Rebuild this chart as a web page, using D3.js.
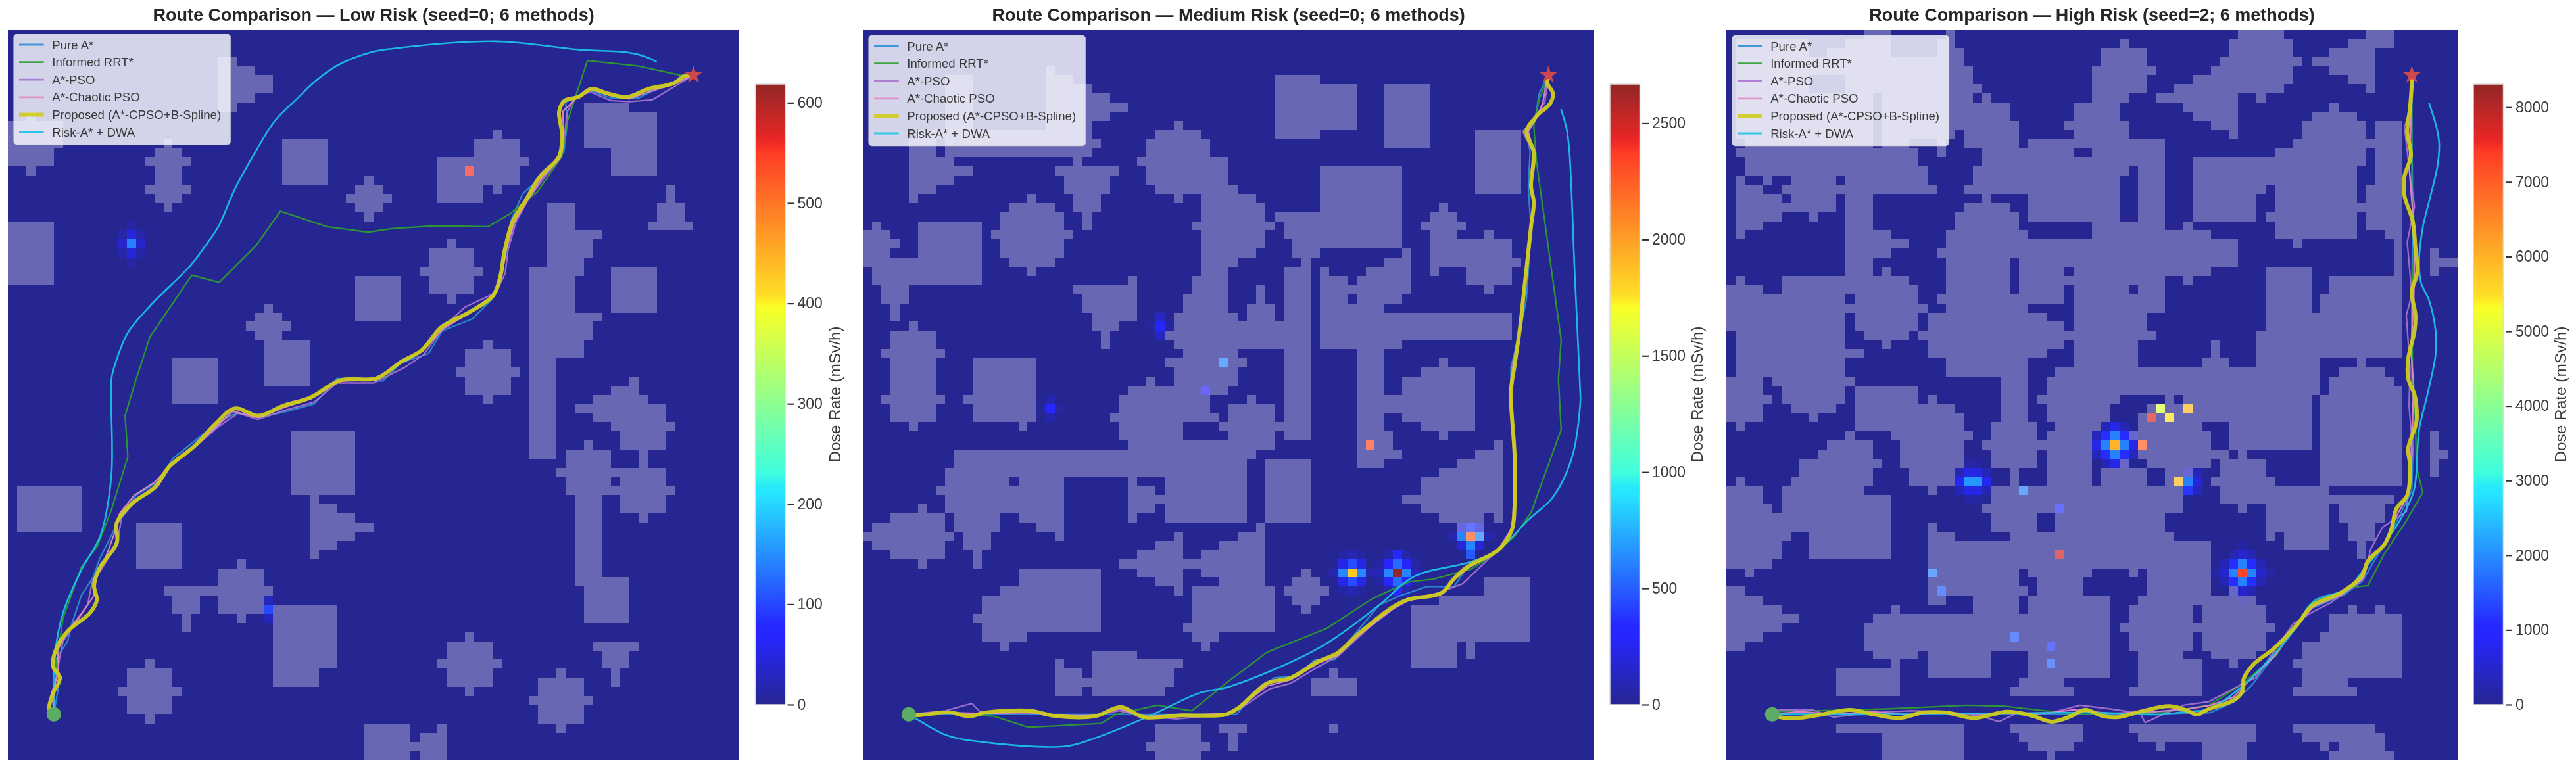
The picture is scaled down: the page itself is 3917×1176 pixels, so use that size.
<!DOCTYPE html>
<html><head><meta charset="utf-8">
<script src="https://cdn.jsdelivr.net/npm/d3@7/dist/d3.min.js"></script>
<style>html,body{margin:0;padding:0;background:#fff}svg{display:block;filter:blur(.7px)}</style>
</head><body><div id="chart"></div>
<script>
const methods=["Pure A*","Informed RRT*","A*-PSO","A*-Chaotic PSO","Proposed (A*-CPSO+B-Spline)","Risk-A* + DWA"];
const methodColors=["#2b8fd6","#2ca02c","#a873cf","#e58ac8","#cfcc1c","#1cc4e6"];
const methodWidths=[2.3,2.3,2.3,2.3,6,2.6];
const titles=["Route Comparison — Low Risk (seed=0; 6 methods)","Route Comparison — Medium Risk (seed=0; 6 methods)","Route Comparison — High Risk (seed=2; 6 methods)"];
const doseMax=[618.6,2668,8310];
const doseTicks=[[0,100,200,300,400,500,600],[0,500,1000,1500,2000,2500],[0,1000,2000,3000,4000,5000,6000,7000,8000]];
const startPoint=[5,5], goalPoint=[75,75];
const jetStops=[0,.11,.125,.34,.35,.375,.64,.65,.66,.89,.91,1];
const jetColors=["#00007f","#0000ff","#0000ff","#00e0ff","#00e5f8","#1effd8","#f8ff00","#ffea00","#ffd800","#ff1a00","#e60000","#7f0000"];

// obstacle rectangles [col0,row0,col1,row1], rows counted from the top
const obstaclesLow=[[23,3,25,9],[25,4,27,8],[27,5,29,7],[2,9,3,10],[0,10,6,13],[0,13,5,15],[2,15,3,16],
[17,12,18,13],[16,13,19,14],[15,14,20,15],[16,15,19,17],[15,17,20,18],[16,18,19,19],[17,19,18,20],[30,12,35,17],
[39,16,40,17],[38,17,41,18],[37,18,42,19],[38,19,41,20],[39,20,40,21],[47,14,52,19],[51,12,56,17],[53,11,54,12],[56,14,57,15],[53,17,54,18],
[63,8,68,13],[66,9,71,16],[72,17,73,19],[71,19,74,21],[70,21,75,22],[0,21,5,28],[48,23,49,24],[46,24,51,26],[45,26,52,27],[46,27,51,29],[48,29,49,30],
[59,19,62,22],[59,22,65,23],[59,23,64,25],[59,25,63,26],[57,26,63,27],[57,27,62,31],[57,31,65,32],[57,32,64,34],[57,34,63,36],[57,36,60,47],
[66,26,71,31],[38,27,43,32],[28,30,29,31],[27,31,30,32],[26,32,31,33],[27,33,30,34],[28,34,33,39],[18,36,23,41],
[52,34,53,35],[50,35,55,37],[49,37,56,38],[50,38,55,40],[52,40,53,41],[68,38,69,39],[66,39,69,40],[64,40,70,41],[62,41,72,42],[64,42,72,43],[66,43,73,44],[67,44,72,46],[69,46,70,48],
[67,48,72,50],[67,50,73,51],[67,51,72,53],[69,53,70,54],[63,45,64,46],[61,46,66,48],[60,48,67,49],[61,49,66,51],[66,50,67,51],[62,51,65,61],[63,60,68,65],
[31,44,38,51],[33,51,34,52],[33,52,36,53],[33,53,38,54],[33,54,40,55],[33,55,38,56],[33,56,36,57],[33,57,34,58],[1,50,8,55],[14,54,19,59],
[25,58,26,59],[23,59,28,61],[23,61,29,62],[17,61,23,62],[18,62,21,64],[19,64,20,66],[23,62,28,64],[25,64,26,65],[29,63,36,70],[29,70,34,72],
[50,66,51,67],[48,67,53,69],[47,69,54,70],[48,70,53,72],[50,72,51,73],[60,70,61,71],[58,71,63,73],[57,73,64,74],[58,74,63,76],[60,76,61,77],
[64,67,69,68],[65,68,68,70],[66,70,67,72],[15,69,16,70],[13,70,18,72],[12,72,19,73],[13,73,18,75],[15,75,16,76],[39,76,44,80],[44,78,45,79],[45,77,48,80],[47,76,48,77]];

const obstaclesMedium=[[45,5,50,12],[50,6,54,11],[57,6,62,13],[67,11,72,18],[20,4,21,12],[21,5,23,12],[23,6,25,12],[25,7,27,10],[27,8,29,9],[9,5,12,11],[6,11,24,12],[5,12,8,13],[9,12,26,13],[5,13,8,14],[9,13,25,14],
[23,14,24,15],[21,15,28,16],[22,16,27,18],[23,18,26,20],[24,20,25,22],[5,14,10,17],[10,15,12,16],[5,17,8,18],[5,18,6,19],
[34,10,35,11],[32,11,37,12],[31,12,38,14],[30,14,40,15],[31,15,40,17],[32,17,41,18],[34,18,35,19],[37,18,43,19],[37,19,44,21],[36,21,45,22],[37,22,44,24],[37,24,43,25],[37,25,41,26],[37,26,40,27],[36,27,40,29],[35,29,40,31],[34,31,41,32],
[50,15,59,21],[45,20,50,21],[46,21,59,23],[47,23,59,24],[47,24,50,25],[48,25,49,26],[46,26,49,45],[59,24,60,29],[57,25,60,26],[55,26,60,27],[54,27,60,28],[50,26,51,27],[50,27,53,28],[50,28,59,29],[50,29,53,30],[54,29,59,30],[50,30,57,31],[50,31,71,34],[50,34,59,35],[54,35,57,48],
[63,19,64,20],[62,20,65,21],[61,21,66,22],[62,22,65,26],[62,26,63,27],[68,22,69,23],[65,23,71,25],[65,25,72,26],[66,26,71,28],[68,28,69,29],
[18,18,19,19],[16,19,21,20],[15,20,22,22],[14,22,23,23],[15,23,22,25],[16,25,21,26],[18,26,19,27],
[1,21,2,22],[0,22,3,23],[0,23,4,24],[0,24,3,25],[0,25,13,26],[1,26,13,28],[6,21,13,25],[2,28,5,30],[3,30,4,32],
[29,27,30,28],[23,28,30,29],[24,29,30,31],[25,31,30,32],[25,32,28,33],[26,33,27,35],
[43,28,44,30],[42,30,45,32],[34,32,46,35],[33,33,34,34],[35,35,41,36],[33,36,42,37],[34,37,41,38],[31,38,32,39],[34,38,41,39],[29,39,40,40],[28,40,38,42],[27,42,39,43],[28,43,35,45],[42,40,43,41],[40,41,45,43],[39,43,46,44],[40,44,45,45],[29,45,45,46],[10,46,43,47],[10,47,42,48],[9,48,42,49],[44,47,49,54],
[9,49,16,50],[17,49,22,50],[29,49,30,50],[33,49,42,50],[8,50,22,51],[29,50,32,51],[33,50,42,51],[9,51,22,52],[29,51,33,52],[33,51,42,52],[9,52,22,53],[29,52,32,53],[33,52,42,54],[10,53,15,54],[17,53,22,54],[29,53,30,54],[10,54,15,55],[19,54,22,55],[11,55,14,56],[21,55,22,56],[11,56,14,57],[12,57,13,59],
[6,52,7,53],[3,53,9,54],[1,54,9,55],[0,55,10,56],[1,56,9,57],[3,57,9,58],[6,58,7,59],
[34,55,35,56],[32,56,35,57],[30,57,35,58],[28,58,44,59],[30,59,35,60],[37,59,44,60],[32,60,35,61],[39,60,44,61],[34,61,35,62],[36,61,45,65],[35,65,45,66],[36,66,39,67],[37,67,38,68],[43,54,44,55],[41,55,44,56],[39,56,44,57],[37,57,44,58],
[48,59,49,60],[47,60,50,61],[46,61,51,62],[47,62,50,63],[48,63,49,64],
[69,45,70,54],[67,46,69,47],[65,47,69,48],[63,48,69,49],[61,49,69,51],[59,51,69,52],[61,52,69,53],[63,53,68,54],[65,54,68,55],[66,55,68,56],
[68,60,73,62],[63,62,73,63],[60,63,73,67],[60,67,65,70],[66,67,67,69],
[17,59,26,66],[15,61,17,62],[13,62,17,64],[12,64,17,65],[13,65,17,67],[17,66,18,67],[15,67,16,68],
[25,68,30,69],[21,69,22,70],[25,69,35,70],[21,70,24,71],[25,70,34,71],[21,71,34,72],[21,72,24,73],[25,72,33,73],
[51,70,52,71],[49,71,54,73],[51,76,52,77],[39,76,42,77],[40,77,41,79],[32,76,37,78],[31,78,38,79],[32,79,37,80],
[5,32,6,33],[3,33,8,43],[2,35,9,36],[2,40,9,41],[5,43,6,44],[12,36,19,43],[11,40,12,41],[17,43,18,44],
[63,36,64,37],[61,37,67,38],[59,38,67,40],[57,40,67,42],[59,42,67,43],[61,43,67,44],[63,44,64,45],[57,44,58,46],[57,46,59,47]];

// High-risk map: free (non-obstacle) runs per row, flat col0,col1 pairs, row 0 at the top
const freeRunsHigh=[
[0,15,18,24,25,56,61,70,73,80],[0,1,9,13,18,23,25,43,44,55,62,68,73,80],[0,1,9,11,18,23,26,41,46,55,62,66,71,80],[0,1,26,41,46,54,63,64,71,80],
[0,1,27,40,47,53,62,66,71,80],[0,1,9,13,27,40,46,51,62,68,71,80],[0,1,9,13,28,40,46,49,61,70,71,80],[0,1,16,17,27,28,29,40,44,47,56,58,59,80],
[0,1,16,17,31,38,43,50,56,66,67,80],[0,1,16,17,31,38,43,51,56,64,69,80],[0,1,16,17,32,37,44,53,56,63,70,71,74,80],[0,1,16,17,25,26,32,38,44,55,56,63,70,71,74,80],
[0,2,16,17,20,23,24,26,32,33,48,62,74,80],[0,1,21,23,24,28,38,40,48,60,70,71,74,80],[0,2,21,28,48,51,70,71,74,80],[0,2,22,27,44,45,48,51,69,71,74,80],
[0,1,2,4,5,7,12,13,22,27,43,45,48,51,69,71,74,80],[0,1,4,6,23,26,43,45,48,51,59,60,69,70,74,80],[0,1,6,7,12,13,16,28,29,33,43,45,48,51,58,60,69,70,74,80],[0,1,12,13,16,26,31,33,43,45,48,51,58,60,74,80],
[0,1,6,9,10,13,16,25,32,33,43,45,48,51,58,59,69,70,74,80],[0,1,4,13,16,25,32,40,48,50,51,60,69,70,74,80],[0,1,2,13,18,24,33,40,53,60,69,72,74,80],[0,13,20,24,56,62,63,73,74,80],
[0,13,18,23,56,73,74,77,78,80],[0,13,16,24,31,32,56,73,74,77],[0,13,16,17,18,24,31,32,37,38,53,59,64,73,74,77,78,80],[0,1,2,6,20,24,31,32,48,50,51,59,64,66,74,80],
[4,6,21,24,31,32,37,38,44,45,48,59,64,66,74,80],[13,14,21,23,37,38,48,59,64,65,74,80],[22,24,33,38,48,59,64,65,74,80],[13,14,21,22,35,38,46,59,74,80],
[13,14,21,22,37,38,46,59,74,80],[0,1,13,15,20,21,47,58,74,80],[0,1,13,17,18,22,37,38,45,53,54,58,74,80],[0,1,15,22,35,38,45,53,54,58,74,80],
[0,1,13,24,33,38,45,52,55,58,65,69,70,80],[0,1,13,24,33,36,65,67,72,80],[4,5,14,30,33,35,65,66,73,80],[4,6,13,14,21,30,33,35,65,66,74,80],
[5,6,13,14,21,22,23,30,33,34,43,48,49,50,64,65,74,80],[4,7,12,14,25,30,33,35,42,46,64,65,74,80],[4,9,10,14,26,30,33,35,42,45,64,65,74,80],[0,1,2,14,26,29,34,36,41,45,52,55,64,65,74,80],
[0,13,14,18,27,29,34,35,40,44,53,55,64,65,74,77,78,80],[0,11,16,19,26,28,40,45,53,55,64,65,74,77,78,80],[0,10,16,19,26,29,34,35,40,45,55,56,57,65,74,77,79,80],[0,8,17,19,26,29,34,35,40,43,44,46,53,54,59,65,74,77,78,80],
[0,8,16,20,25,31,32,35,40,41,46,48,51,54,59,65,74,77,78,80],[0,1,2,7,16,20,25,31,32,35,40,41,46,48,50,53,60,65,74,80],[4,6,15,22,23,29,50,54,66,80],[4,6,18,29,50,54,73,80],
[5,6,18,28,50,56,57,59,66,67,72,80],[18,29,34,36,48,59,66,67,72,80],[18,22,23,29,34,36,48,59,66,68,71,80],[7,9,18,22,25,31,49,59,60,61,66,68,71,80],
[6,9,18,22,53,61,66,69,70,80],[6,9,18,22,53,69,70,80],[5,22,53,80],[0,2,3,22,32,33,40,44,45,46,53,80],
[0,22,32,34,39,46,53,80],[2,22,33,34,39,46,53,55,56,80],[4,22,24,27,32,33,42,45,58,80],[6,18,19,27,32,33,42,44,51,52,59,68,69,71,72,80],
[8,16,42,44,51,52,59,66,74,80],[6,15,42,43,60,66,74,80],[4,15,42,44,51,52,59,65,74,80],[2,15,42,44,51,52,59,63,74,80],
[0,16,21,22,29,33,42,45,50,53,58,63,74,80],[0,18,19,22,29,33,42,45,52,55,56,62,74,80],[0,12,19,22,29,33,42,45,52,63,74,80],[0,12,19,32,37,45,52,63,68,80],
[0,12,19,31,38,44,52,62,69,80],[0,80],[0,80],[0,80],
[0,12,26,31,39,44,58,62,71,80],[0,17,26,32,39,45,58,63,72,80],[0,17,26,33,38,47,48,52,57,65,66,67,72,80],[0,17,26,35,36,52,57,66,73,80]];

// dose cells [col,row,value]; every other cell is about zero
const doseLow=[[13,23,140],[13,22,45],[13,24,45],[12,23,35],[14,23,35],[13,21,12],[13,25,12],[12,22,14],[14,22,14],[12,24,14],[14,24,14],[28,63,100],[28,62,25],[28,64,25],[50,15,560]];
const doseMedium=[[32,32,330],[32,31,130],[32,33,130],[31,32,40],[33,32,40],[39,36,620],[37,39,300],[20,41,330],[20,40,70],[20,42,70],[19,41,30],[21,41,30],[55,45,2320],
[66,55,2240],[65,55,620],[67,55,620],[66,54,400],[66,56,620],[66,57,480],[65,54,180],[67,54,180],[65,56,180],[67,56,180],[64,55,70],[68,55,70],
[53,59,1850],[52,59,620],[54,59,620],[53,58,450],[53,60,450],[52,58,230],[54,58,230],[52,60,230],[54,60,230],[51,59,90],[55,59,90],[53,57,90],[53,61,90],[52,57,45],[54,57,45],[52,61,45],[54,61,45],
[58,59,2650],[57,59,620],[59,59,620],[58,58,540],[58,60,540],[57,58,280],[59,58,280],[57,60,280],[59,60,280],[58,57,300],[58,61,300],[56,59,100],[60,59,100],[57,57,60],[59,57,60],[57,61,60],[59,61,60],[56,58,45],[60,58,45],[56,60,45],[60,60,45]];
const doseHigh=[[26,49,2100],[27,49,2100],[25,49,800],[28,49,800],[26,48,700],[27,48,700],[26,50,700],[27,50,700],[26,47,150],[27,47,150],[26,51,150],[27,51,150],[25,48,300],[28,48,300],[25,50,300],[28,50,300],
[32,50,1900],[36,52,1200],[36,57,7800],[22,59,1900],[23,61,1500],[31,66,1500],[35,67,1200],[35,69,1600],
[42,45,6000],[41,45,1900],[43,45,1900],[42,44,1900],[42,46,1900],[41,44,1100],[43,44,1100],[41,46,1100],[43,46,1100],[40,45,700],[44,45,700],[42,43,700],[42,47,700],[40,44,350],[44,44,350],[40,46,350],[44,46,350],[41,43,300],[43,43,300],[41,47,300],[43,47,300],
[45,45,7000],[47,41,5000],[50,41,5900],[46,42,7700],[48,42,5500],[49,49,5900],[50,49,1900],[50,50,1200],[51,49,600],[51,50,350],[50,48,450],[51,48,300],
[56,59,7300],[55,59,1900],[57,59,1900],[56,58,1900],[56,60,1900],[55,58,1100],[57,58,1100],[55,60,1100],[57,60,1100],[54,59,500],[58,59,500],[56,57,500],[56,61,500],[54,58,300],[58,58,300],[54,60,300],[58,60,300],[55,57,250],[57,57,250],[55,61,250],[57,61,250],[53,59,180],[59,59,180],[56,56,150],[56,62,150]];

// routes in map units [x,y], y upward
const lowPure=[[5,5],[5.5,8],[5.2,11],[6.5,13],[7,15],[8,18],[9.3,20],[10,22],[11.5,25],[12.5,27],[14,29],[16.5,30.5],[18,33],[20.5,35],[23,37],[25,38],[27.5,37.5],[31,38.3],[33.5,39],[36,41.8],[41,41.5],[43,43.5],[46,44.5],[47.5,47],[50.8,48.3],[53,50.5],[54,53.5],[54.5,55.5],[55,59],[56.3,62],[58.5,64],[60.8,66.5],[61.2,69.8],[61,72],[62.5,72.8],[64,73.2],[66,72.5],[69,72.5],[71,73.5],[73,74.3],[75,75]];
const lowRRT=[[5,5],[5.2,10],[6,15.5],[8,21.1],[9.8,23.5],[11.3,27.4],[13.1,33.2],[12.8,37.7],[14,41.7],[14.7,43.8],[15.5,46.3],[20.1,53.1],[23.1,52.3],[27.1,56.3],[29.8,60.1],[34.9,58.4],[39.4,57.8],[42.1,58.2],[46.8,58.5],[52.5,58.4],[54.9,59.8],[57.9,62.2],[60.6,66.1],[61.2,69.9],[63.4,76.6],[68.9,76],[74,74.9],[75,75]];
const lowPSO=[[5,5],[4.8,7.5],[5.3,9],[5.6,11],[6,13],[7.4,15],[8.7,17],[9.2,19.5],[10.3,21],[12,24],[12.4,26.5],[14,28.5],[16.4,30],[18,32.5],[20.7,34.5],[23,36.5],[25.2,38],[27.3,37.3],[30.3,38.3],[33.5,39.2],[36,41.3],[40,41.3],[43.4,43],[45.5,44.4],[47.7,47.5],[50,49.6],[53.4,51.2],[54.4,53.3],[54.7,55.8],[55.6,59],[57,61.5],[58.7,63.8],[60.5,66],[60.9,68.5],[61.2,71],[62,72.4],[63.6,73.2],[66,72.2],[68,72.1],[70.5,72.3],[73,73.8],[75,75]];
const lowChaotic=[[5,5],[5,7.8],[5.5,10],[5.4,12],[6.4,14],[8,16],[9.4,18],[9.6,20],[10.6,22],[11.7,25],[12.2,27],[13.8,29],[16,30.4],[17.8,32.3],[20.4,34.3],[22.6,36.3],[24.6,38.2],[27.4,37.5],[30.2,38.6],[33.2,39.6],[36.2,41.5],[40.2,41.6],[43,43.6],[45.2,44.7],[47.6,47.2],[50.5,49],[53.2,50.8],[54,53],[54.5,55.8],[55.4,58.9],[56.9,61.4],[58.4,63.7],[60.4,66],[60.8,68.6],[60.7,71],[62.2,72.5],[63.8,73.4],[65.8,72.8],[68,72.4],[70.2,73.2],[72.8,74],[75,75]];
const lowProposed=[[5,5],[4.5,5.6],[4.9,7.3],[5.67,9],[4.9,10.3],[5.4,12.5],[6.6,14.2],[8.95,16.1],[9.7,17.5],[9.4,19.1],[10,21],[11.9,23.8],[11.9,26],[13.7,28.2],[16.1,29.9],[17.6,32.1],[20.3,34.3],[22.7,36.8],[24.8,38.5],[27.4,37.7],[30.1,38.8],[33.1,39.7],[36.4,41.6],[40.3,41.8],[43,43.6],[45.3,44.9],[47.4,47.4],[50.4,49],[53.1,50.9],[53.9,53.1],[54.3,55.6],[55.2,58.9],[56.7,61.4],[58.2,63.9],[60.3,66.1],[60.6,68.6],[60.3,71],[60.9,72.2],[62.4,72.6],[63.8,73.5],[65.6,73],[67.7,72.6],[70.1,73.5],[72.8,74.1],[74,74.9],[75,75]];
const lowRisk=[[5,5],[5.1,11.4],[6,16.1],[8,20.8],[10.1,24.6],[11.3,31.2],[11.3,41.7],[11.6,43],[13.1,46.8],[15.5,49.7],[20,54.2],[21.5,56.2],[23,58.4],[24.8,62.5],[26.6,65.8],[29.2,70],[31.6,72.4],[33.7,74.4],[36.1,76.1],[39.7,77.5],[42.1,77.9],[53.4,78.7],[62.4,77.8],[67.7,77.5],[69.5,77.1],[70.9,76.5]];

const medPure=[[5,5],[15,5],[25,5],[35,5],[40.9,5],[42.5,7],[45,9],[47.5,9.2],[49.5,11],[51.6,11],[54,14],[56.5,17],[58.8,18],[61.7,19],[64.7,19],[66,21],[69.5,23],[71,25.2],[71.3,28],[71.2,34],[70.9,40],[70.9,43],[71.9,47],[72.6,50.5],[73.1,58],[72.8,62.8],[73,66.6],[72.6,69],[73.6,70.5],[74,73],[75,75]];
const medRRT=[[5,5],[10,5.1],[14.3,4.8],[18.1,3.6],[26,4],[27.7,5],[32.2,6],[36,5.4],[39.7,8.4],[44.2,11.8],[50.7,14.4],[55.8,17.7],[59.7,19.5],[62.4,19.8],[66.5,20.9],[68.9,22.4],[71.3,24.5],[73.1,27.1],[76.4,36.2],[76.1,41.7],[76.4,46],[73.7,65.5],[73.4,69.4],[74,72.4],[74.6,73.8],[75,75]];
const medPSO=[[5,5],[9,5.4],[11.9,6.2],[13,5.1],[18,5.2],[21,4.8],[25.4,4.9],[28,5.4],[30.7,4.8],[34.3,4.5],[39.6,5],[41.2,5.6],[44.5,7.8],[46.8,8.4],[49.8,10.2],[52,11.4],[54.4,13.6],[56.7,15.8],[59.5,17.4],[63,18.3],[65.6,19.3],[67.7,21.3],[69.5,23],[71,25.4],[71.2,28],[71.2,33.4],[70.8,40.3],[71,43],[72,47.4],[72.1,50],[73,58.4],[73.4,61],[73,62.8],[73.3,66.6],[72.2,68.8],[73.6,70.5],[74.6,72],[74.9,74],[75,75]];
const medChaotic=[[5,5],[9.5,5.2],[13,5.1],[18,5.2],[21,4.9],[25.4,4.8],[28,5.6],[30.7,4.8],[34.9,4.9],[39.7,5.1],[41.2,5.8],[44.2,8.1],[46.8,8.8],[49.8,10.6],[52,11.5],[54.3,13.7],[58.2,16.7],[59.7,17.5],[63.3,18.2],[64.7,19.8],[66.2,21],[69.5,23],[71,25.2],[71.3,28],[71.3,33.4],[70.9,40.3],[71.2,43.2],[71.9,47.4],[72.2,50.1],[73.1,58.4],[73.4,61.1],[73.1,62.8],[73.4,66.6],[72.8,68.8],[73.8,70.5],[74.4,72],[74.8,74.3],[75,75]];
const medProposed=[[5,5],[5.7,4.9],[9.5,5.2],[11.6,4.8],[13.4,5.2],[18.2,5.4],[21.2,4.8],[25.4,4.8],[28.2,5.8],[30.7,4.7],[34.9,4.9],[39.7,5],[41.2,5.8],[44.2,8.4],[46.8,9],[49.8,10.8],[51.9,11.7],[54.3,13.9],[58.2,16.9],[59.7,17.6],[63.3,18.3],[64.7,19.9],[66.2,21.2],[69.5,23],[71,25.2],[71.3,27.9],[71.3,33.4],[70.9,40.3],[71.3,43.2],[71.9,47.4],[72.2,50.1],[73.1,58.4],[73.4,61.1],[73.1,62.8],[73.4,66.6],[72.6,68.8],[73.7,70.5],[75.2,71.9],[75.5,73],[74.9,74.1],[75,75]];
const medRisk=[[5,5],[6,4.4],[9.2,2.7],[13.7,1.9],[22.1,1.5],[24.8,2.2],[31.3,4.8],[36.7,7.3],[40.3,8.1],[50.1,12.4],[56.4,16.9],[60.3,20.1],[66.5,21.7],[69.5,23],[72.8,26.3],[75.5,28.8],[77.6,33.2],[78.5,39.2],[78.5,40],[77.9,52.9],[77.3,66.6],[77,69.1],[76.4,71.2]];

const highPure=[[5,5],[10,5.1],[20,5],[30,5],[40,5],[48,5],[53,5.2],[55.6,6.4],[57.5,8.2],[59,10.2],[61,12.8],[64,16.6],[67.6,18.1],[69.6,19.6],[71,22],[72.3,24],[73.6,26.6],[75,29.5],[75.2,37],[75,42],[75,50],[75.1,60],[75,70],[75,75]];
const highRRT=[[5,5],[5.8,5.3],[17.6,5.6],[26.3,6],[30.5,5.9],[35.6,5.3],[39,5],[47.6,5.2],[52.8,6],[56.4,8.3],[60.2,11.5],[61,12.8],[64.1,17.2],[68.4,18.9],[70.2,19.1],[72,22.6],[74.4,26.2],[76.2,29.3],[75.5,32.1],[75.4,37.5],[75.1,40],[75,50],[75.3,58],[75,62.4],[75,70],[75,75]];
const highPSO=[[5,5],[5.8,5.5],[9.4,5.5],[11.7,4.7],[16,5.2],[20,5.4],[24,5.3],[27.9,4.8],[29.8,4.2],[31.7,5.1],[35.6,5.2],[38.7,6],[42,5.6],[45.3,5.1],[45.8,4.1],[50,6],[52.8,6.4],[56.4,8.3],[57.9,9],[62,14.9],[64.1,16.2],[66.1,17.2],[69.7,19.8],[70.5,23.1],[71.8,25.5],[74.4,27.2],[75.1,33.9],[74.7,38.8],[74.8,43],[74.4,48.7],[75,51],[74.5,56.7],[75.3,60.6],[74.8,64],[74.2,69.3],[75,72],[75,75]];
const highChaotic=[[5,5],[8,5.3],[12,5],[16,5.3],[20,4.9],[24,5.2],[28,5],[31,5.1],[34,5],[38,5.5],[42,5.1],[47,5.3],[50.5,5.6],[53,6],[55.5,6.9],[57,8.5],[60,11.4],[62.4,14.8],[64.2,16.8],[67.3,18.1],[69.6,19.9],[70.4,21.9],[72.1,23.8],[73.2,26.5],[74.6,29],[74.9,33],[75.1,38],[75.2,41],[74.9,45],[75.2,50],[75.3,55],[75.1,60],[74.7,65],[74.9,70],[75,75]];
const highProposed=[[5,5],[5.8,4.7],[7.8,4.6],[10.2,4.95],[13.5,5.5],[16.1,5],[18.9,4.6],[21.5,5.2],[24,5.2],[27.1,4.6],[30.7,5.3],[33.3,4.9],[35.6,4.2],[37.7,4.8],[39.2,5.5],[41.2,4.8],[42.9,4.7],[45.3,5.3],[48.4,5.9],[50.2,5.5],[51.5,5],[52.8,5.6],[55.6,6.6],[56.5,7.6],[56.6,8.9],[57.7,10.5],[59.9,12.2],[62.5,14.9],[64.1,16.9],[67.2,18.3],[69.5,20.1],[70.2,21.8],[72,23.6],[72.8,25.4],[73.3,27.5],[74.5,29],[74.8,32.3],[74.6,34.1],[75.5,37],[75.5,38.8],[75.3,40],[74.6,41.8],[74.6,43.9],[75.3,47],[75.4,48.7],[75,51.3],[75.6,53.4],[75.4,56],[75.1,59],[74.2,61.8],[74.2,63.9],[74.9,66.2],[74.5,68.8],[74.8,71.4],[75,74.2],[75,75]];
const highRisk=[[5,5],[15,5],[30,5.1],[40,5.2],[47.6,5],[50.2,5.3],[52.8,5.6],[56.6,8.2],[59.2,10.8],[61.8,13.8],[64.3,17.4],[67.9,18.7],[69.7,20.8],[72.3,24.1],[74.4,27.5],[75.3,29.8],[75.8,36.2],[76.7,40],[77.6,44.4],[77.6,47],[76.9,50.3],[76,52.3],[75.8,54.7],[76.2,58.3],[77,61.6],[77.8,65],[78,67.5],[77.7,69.3],[76.9,71.9]];

const routeSets=[[lowPure,lowRRT,lowPSO,lowChaotic,lowProposed,lowRisk],[medPure,medRRT,medPSO,medChaotic,medProposed,medRisk],[highPure,highRRT,highPSO,highChaotic,highProposed,highRisk]];
const obstacleSets=[obstaclesLow,obstaclesMedium,null];
const doseSets=[doseLow,doseMedium,doseHigh];
const panelLeft=[12.4,1312.4,2625.3], barLeft=[1148.5,2448,3761], axisOffset=[75,87,87], legendTop=[52,54,54];
const panelSize=1111.5, panelTop=44.8, barTop=128, barBottom=1072, barWidth=45.5;

const svg=d3.select("#chart").append("svg").attr("width",3917).attr("height",1176).style("font-family","'Liberation Sans',Arial,sans-serif");
svg.append("rect").attr("width",3917).attr("height",1176).attr("fill","#fff");
const jet=d3.scaleLinear().domain(jetStops).range(jetColors).clamp(true);
const withAlpha=t=>{const c=d3.rgb(jet(t));return d3.rgb(c.r*.85+38.25,c.g*.85+38.25,c.b*.85+38.25).formatRgb();};
const defs=svg.append("defs");

titles.forEach((title,p)=>{
  const L=panelLeft[p];
  const x=d3.scaleLinear().domain([0,80]).range([L,L+panelSize]);
  const y=d3.scaleLinear().domain([0,80]).range([panelTop+panelSize,panelTop]);
  const yr=r=>y(80-r);
  const g=svg.append("g");
  g.append("text").attr("x",L+panelSize/2).attr("y",32).attr("text-anchor","middle").attr("font-size",27).attr("font-weight",700).attr("fill","#262626").text(title);
  const cells=g.append("g").attr("shape-rendering","crispEdges");
  cells.append("rect").attr("x",x(0)).attr("y",y(80)).attr("width",x(80)-x(0)).attr("height",y(0)-y(80)).attr("fill",withAlpha(0));
  cells.selectAll("rect.dose").data(doseSets[p]).join("rect").attr("class","dose")
    .attr("x",d=>x(d[0])).attr("y",d=>yr(d[1])).attr("width",d=>x(d[0]+1)-x(d[0])).attr("height",d=>yr(d[1]+1)-yr(d[1]))
    .attr("fill",d=>withAlpha(d[2]/doseMax[p]));
  // occupancy grid -> row runs
  const grid=d3.range(80).map(()=>new Array(80).fill(p===2?1:0));
  if(p===2){freeRunsHigh.forEach((runs,r)=>{for(let i=0;i<runs.length;i+=2)for(let c=runs[i];c<runs[i+1];c++)grid[r][c]=0;});}
  else obstacleSets[p].forEach(b=>{for(let r=b[1];r<b[3];r++)for(let c=b[0];c<b[2];c++)grid[r][c]=1;});
  const runs=[];
  grid.forEach((row,r)=>{let c=0;while(c<80){if(row[c]){let e=c;while(e<80&&row[e])e++;runs.push([c,r,e]);c=e;}else c++;}});
  const pathD=d3.path();
  runs.forEach(a=>{pathD.rect(x(a[0]),yr(a[1]),x(a[2])-x(a[0]),yr(a[1]+1)-yr(a[1]));});
  cells.append("path").attr("d",pathD.toString()).attr("fill","#fff").attr("fill-opacity",.3);
  const line=d3.line().x(d=>x(d[0])).y(d=>y(d[1]));
  const smooth=d3.line().x(d=>x(d[0])).y(d=>y(d[1])).curve(d3.curveCatmullRom.alpha(.5));
  [0,1,2,3,5,4].forEach(m=>{
    const draw=(m===4||m===5)?smooth:line;
    g.append("path").attr("d",draw(routeSets[p][m])).attr("fill","none").attr("stroke",methodColors[m]).attr("stroke-width",methodWidths[m]).attr("stroke-linejoin","round").attr("stroke-linecap","round").attr("stroke-opacity",m===4?.95:.92);
  });
  g.append("circle").attr("cx",x(startPoint[0])).attr("cy",y(startPoint[1])).attr("r",11).attr("fill","#5cab66");
  g.append("path").attr("transform",`translate(${x(goalPoint[0])},${y(goalPoint[1])})`).attr("d",d3.symbol(d3.symbolStar).size(230)()).attr("fill","#cc4a4e");
  // legend
  const lx=L+8.3, ly=legendTop[p];
  const leg=g.append("g").attr("transform",`translate(${lx},${ly})`);
  leg.append("rect").attr("width",330).attr("height",168).attr("rx",5).attr("fill","#fff").attr("fill-opacity",.8).attr("stroke","#ccc").attr("stroke-opacity",.5);
  methods.forEach((name,i)=>{
    const ry=16+i*26.6;
    leg.append("line").attr("x1",8.3).attr("x2",46).attr("y1",ry).attr("y2",ry).attr("stroke",methodColors[i]).attr("stroke-width",i===4?6:2.8).attr("stroke-opacity",.9);
    leg.append("text").attr("x",58.6).attr("y",ry).attr("dy",".35em").attr("font-size",18.6).attr("fill","#3a3a3a").text(name);
  });
  // colorbar
  const bl=barLeft[p];
  const gid="cb"+p;
  const lg=defs.append("linearGradient").attr("id",gid).attr("x1",0).attr("x2",0).attr("y1",1).attr("y2",0);
  jetStops.forEach(s=>lg.append("stop").attr("offset",s).attr("stop-color",withAlpha(s)));
  g.append("rect").attr("x",bl).attr("y",barTop).attr("width",barWidth).attr("height",barBottom-barTop).attr("fill",`url(#${gid})`).attr("stroke","#ddd").attr("stroke-width",1.5);
  const cs=d3.scaleLinear().domain([0,doseMax[p]]).range([barBottom,barTop]);
  const ax=g.append("g").attr("transform",`translate(${bl+barWidth+3.5},0)`).call(d3.axisRight(cs).tickValues(doseTicks[p]).tickSize(10).tickPadding(5).tickFormat(d3.format("d")));
  ax.select(".domain").remove();
  ax.selectAll("line").attr("stroke","#333").attr("stroke-width",2.2);
  ax.selectAll("text").attr("font-size",23).attr("font-family","'Liberation Sans',Arial,sans-serif").attr("fill","#3a3a3a");
  const tx=bl+barWidth+axisOffset[p];
  g.append("text").attr("transform",`translate(${tx},600) rotate(-90)`).attr("text-anchor","middle").attr("dy",".35em").attr("font-size",24.4).attr("fill","#3a3a3a").text("Dose Rate (mSv/h)");
});
</script></body></html>
